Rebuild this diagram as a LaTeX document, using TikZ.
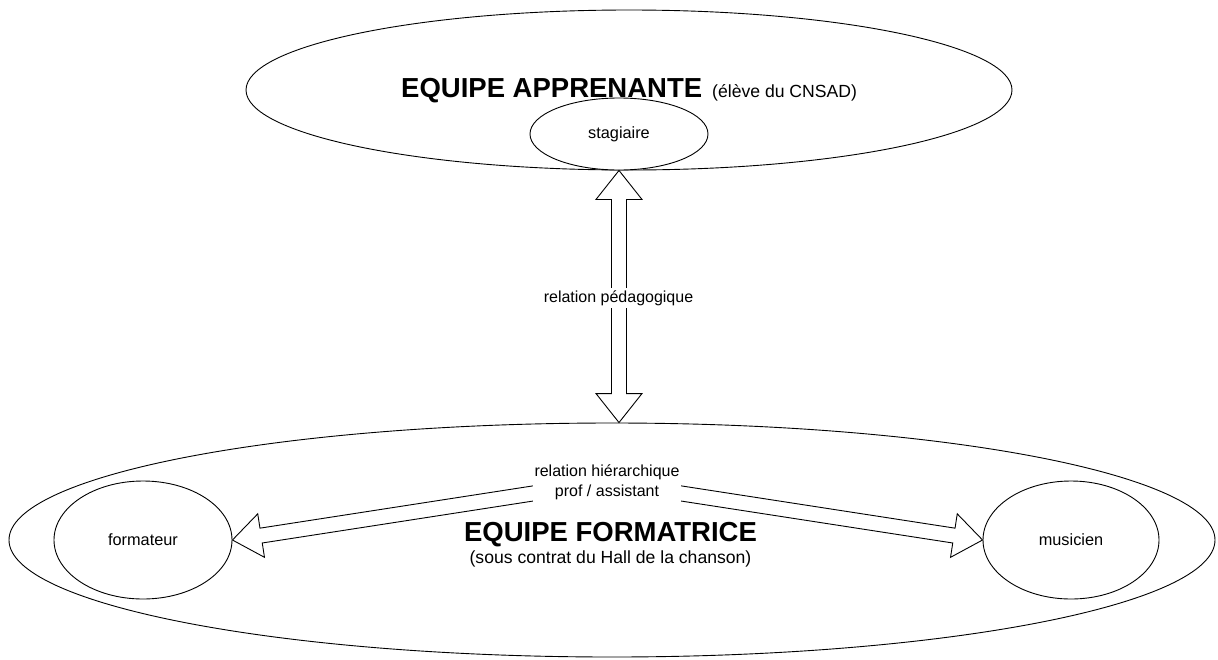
\documentclass[tikz,border=0pt]{standalone}
\usepackage{fontspec}
\setmainfont{Liberation Sans}
\usetikzlibrary{shapes.geometric,calc}
\tikzset{
  ell/.style={ellipse, draw, line width=0.9pt, inner sep=0pt, fill=white},
  fatline/.style={draw, fill=white, line width=0.9pt, line join=miter},
  txt/.style={font=\fontsize{16.3}{20}\selectfont, inner sep=0pt},
  ptxt/.style={font=\fontsize{17.6}{21}\selectfont, inner sep=0pt},
  big/.style={font=\fontsize{27.5}{32}\selectfont\bfseries, inner sep=0pt},
  lab/.style={font=\fontsize{16}{20}\selectfont, fill=white, inner sep=2pt, align=center}
}
\newcommand\fatarrow[2]{%
  \coordinate (fa-b) at ($(#2)!29pt!(#1)$);
  \draw[fatline] ($(#1)!7.5pt!90:(#2)$) -- ($(fa-b)!7.5pt!90:(#2)$) -- ($(fa-b)!22pt!90:(#2)$) -- (#2)
    -- ($(fa-b)!22pt!-90:(#2)$) -- ($(fa-b)!7.5pt!-90:(#2)$) -- ($(#1)!7.5pt!-90:(#2)$) -- cycle;
}
\newcommand\dblarrow[2]{%
  \coordinate (da-a) at ($(#1)!29pt!(#2)$);
  \coordinate (da-b) at ($(#2)!29pt!(#1)$);
  \draw[fatline] (#1) -- ($(da-a)!23pt!90:(#2)$) -- ($(da-a)!7.5pt!90:(#2)$) -- ($(da-b)!7.5pt!90:(#2)$)
    -- ($(da-b)!23pt!90:(#2)$) -- (#2) -- ($(da-b)!23pt!-90:(#2)$) -- ($(da-b)!7.5pt!-90:(#2)$)
    -- ($(da-a)!7.5pt!-90:(#2)$) -- ($(da-a)!23pt!-90:(#2)$) -- cycle;
}
\begin{document}
\begin{tikzpicture}[x=1pt,y=-1pt]
\useasboundingbox[fill=white] (0,0) rectangle (1218,659);
% top group
\node[ell, minimum width=766pt, minimum height=160pt] (top) at (629,90) {};
\node[ell, minimum width=178pt, minimum height=72pt] (stag) at (619,134) {};
\node[txt] (stagt) at (stag.center) {stagiaire};
\node[big, anchor=base west] (t1) at (401,97.5) {EQUIPE APPRENANTE};
\node[ptxt, anchor=base west] (t1p) at (712,97.5) {(élève du CNSAD)};
% bottom group
\node[ell, minimum width=1206pt, minimum height=234pt] (bot) at (612,540) {};
\node[ell, minimum width=178pt, minimum height=118pt] (form) at (143,540) {};
\node[txt] (formt) at (form.center) {formateur};
\node[ell, minimum width=176pt, minimum height=118pt] (mus) at (1071,540) {};
\node[txt] (must) at (mus.center) {musicien};
\node[big, anchor=base] (t2) at (610.5,541) {EQUIPE FORMATRICE};
\node[ptxt, anchor=base] (t2p) at (610.5,563) {(sous contrat du Hall de la chanson)};
% vertical relation
\coordinate (vend) at (stag.south |- bot.north);
\dblarrow{stag.south}{vend}
\node[lab] (ped) at (618.5,298) {relation pédagogique};
% horizontal relations
\coordinate (hub) at (607,482);
\fatarrow{hub}{form.east}
\fatarrow{hub}{mus.west}
\node[lab] (hier) at (hub) {relation hiérarchique\\prof / assistant};
\end{tikzpicture}
\end{document}
